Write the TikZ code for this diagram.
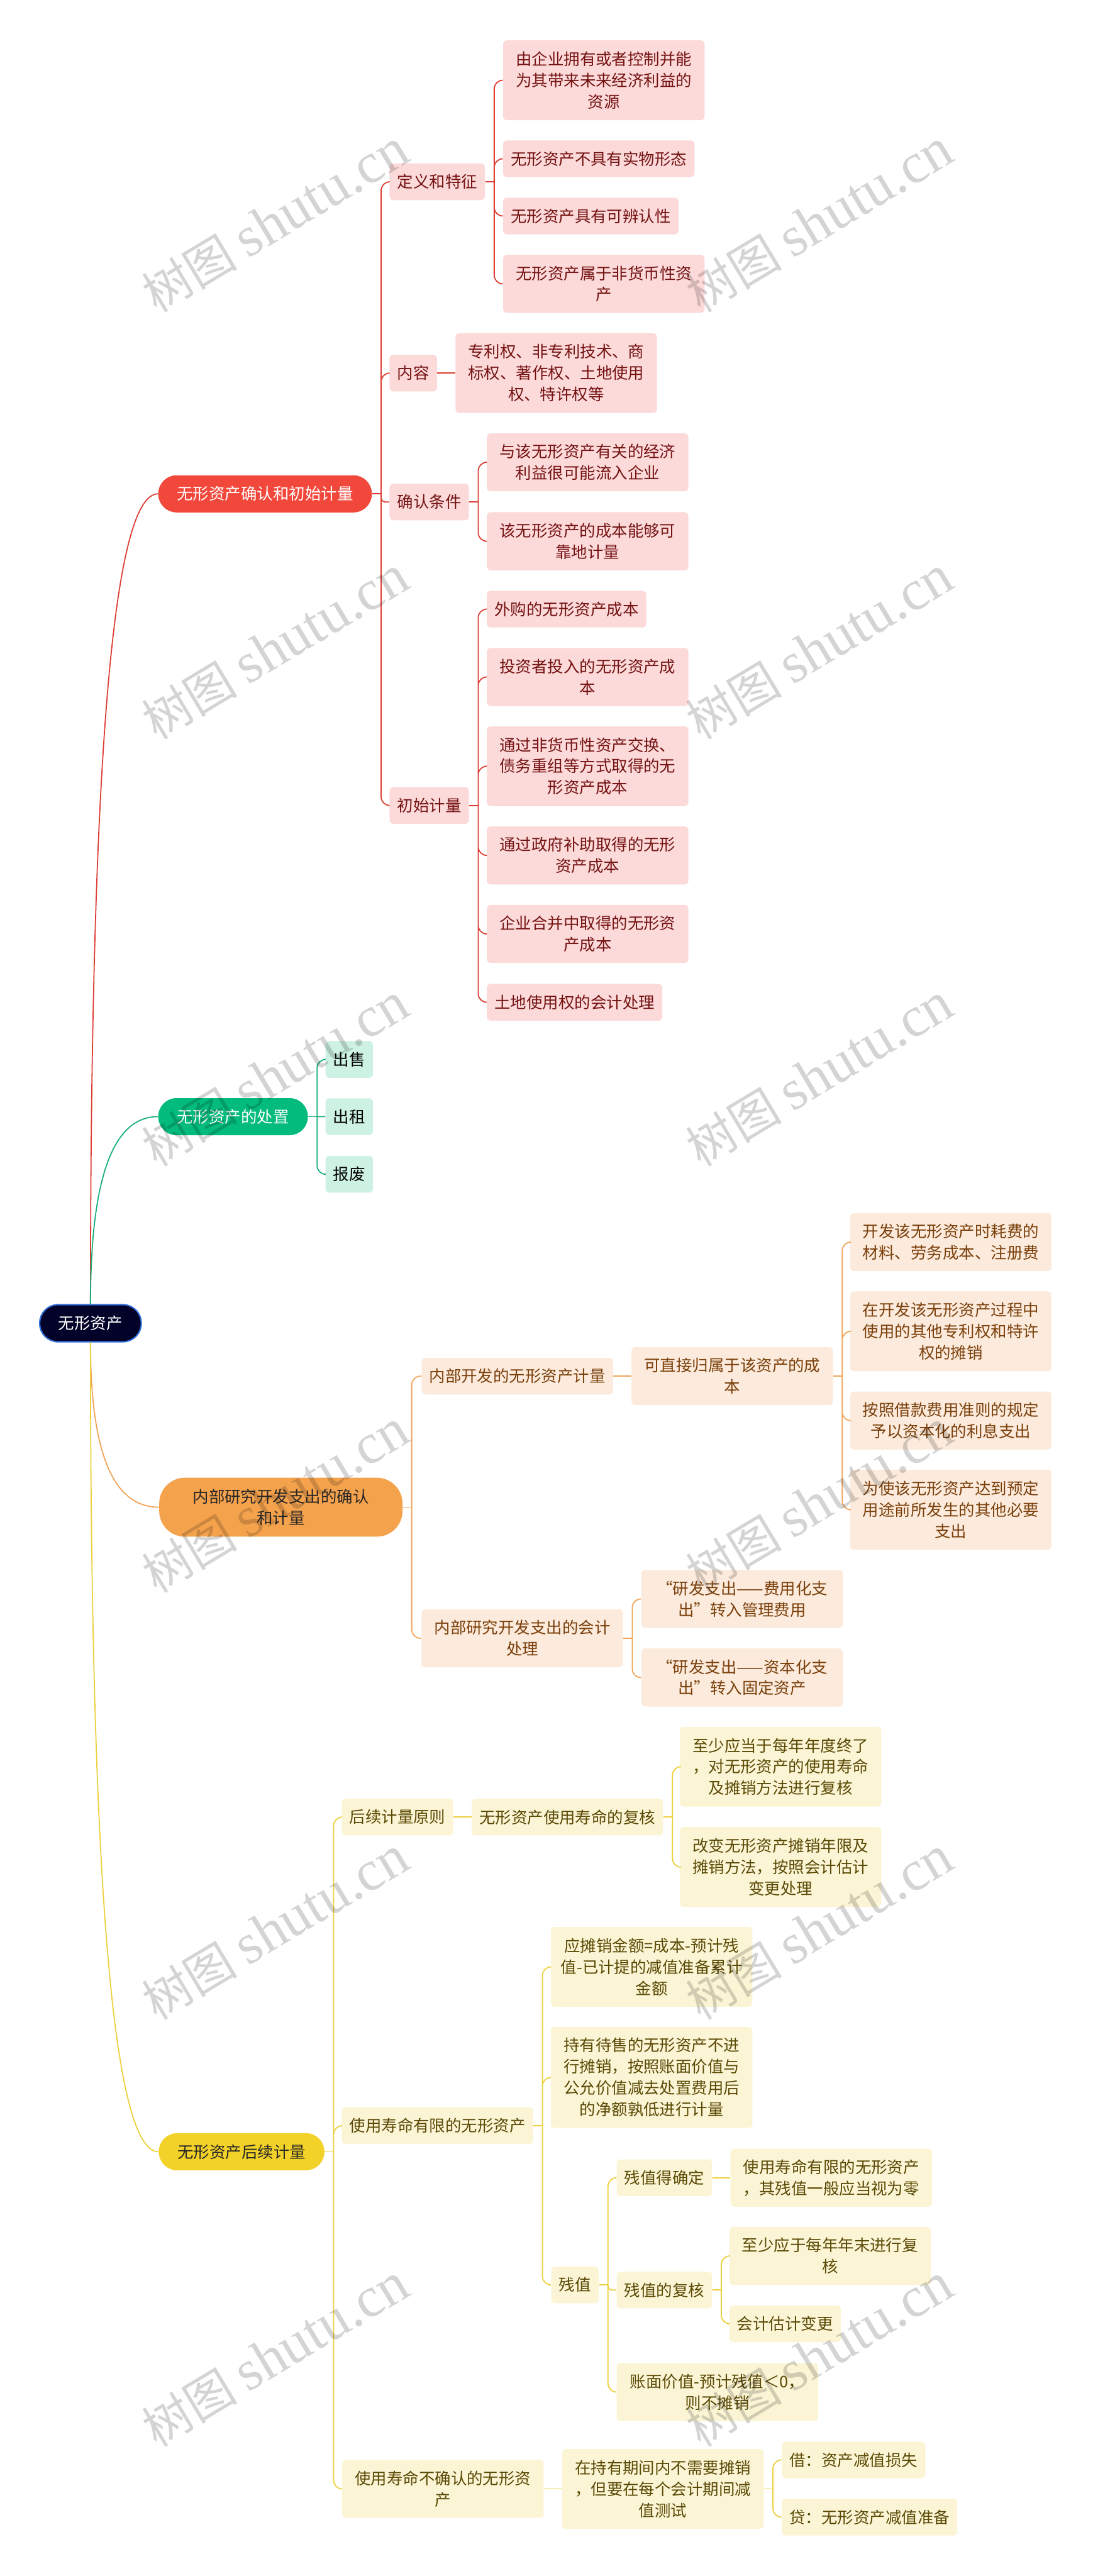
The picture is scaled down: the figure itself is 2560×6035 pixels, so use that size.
\documentclass[tikz,border=0pt]{standalone}
\usepackage{fontspec}
\setmainfont{Noto Sans CJK SC}
\newfontfamily\wmlatin{Liberation Serif}
\usepackage{tikz}
\usetikzlibrary{positioning, calc}

\definecolor{rootfill}{HTML}{03032A}
\definecolor{rootline}{HTML}{2F6CD8}
\definecolor{redmain}{HTML}{F2483C}
\definecolor{redline}{HTML}{DD3D33}
\definecolor{redfill}{HTML}{FCDADA}
\definecolor{redtext}{HTML}{741212}
\definecolor{greenmain}{HTML}{02BB7C}
\definecolor{greenline}{HTML}{18AE7C}
\definecolor{greenfill}{HTML}{CDF2E3}
\definecolor{orangemain}{HTML}{F5A24D}
\definecolor{orangeline}{HTML}{F0A458}
\definecolor{orangefill}{HTML}{FCEBDC}
\definecolor{orangetext}{HTML}{7A3F0B}
\definecolor{yellowmain}{HTML}{F2D229}
\definecolor{yellowline}{HTML}{EDD03C}
\definecolor{yellowfill}{HTML}{FCF5D5}
\definecolor{yellowtext}{HTML}{594905}

\begin{document}
\begin{tikzpicture}[x=0.1mm, y=-0.1mm,
  every node/.style={font=\fontsize{10.67pt}{14.2pt}\selectfont, align=center},
  topic/.style={rounded corners=0.43cm, minimum height=0.87cm, inner xsep=0.44cm, inner ysep=0pt},
  leaf/.style={rounded corners=0.09cm, minimum height=0.86cm, inner xsep=0.18cm, inner ysep=0pt, anchor=west},
  wide/.style={text width=4.36cm},
  h2/.style={minimum height=1.36cm},
  h3/.style={minimum height=1.87cm},
  h4/.style={minimum height=2.37cm},
  leafR/.style={leaf, fill=redfill, text=redtext},
  leafG/.style={leaf, fill=greenfill, text=black},
  leafO/.style={leaf, fill=orangefill, text=orangetext},
  leafY/.style={leaf, fill=yellowfill, text=yellowtext},
  lnR/.style={draw=redline, line width=0.75pt, rounded corners=2mm},
  lnG/.style={draw=greenline, line width=0.75pt, rounded corners=2mm},
  lnO/.style={draw=orangeline, line width=0.75pt, rounded corners=2mm},
  lnY/.style={draw=yellowline, line width=0.75pt, rounded corners=2mm},
  wmark/.style={rotate=31, text=black, text opacity=0.17}]

  \useasboundingbox[fill=white] (0,0) rectangle (2560,6035);

  % root and main topics
  \node[topic, fill=rootfill, draw=rootline, line width=0.9pt, text=white] (root) at (212,3100) {无形资产};
  \node[topic, fill=redmain, text=white] (m1) at (621,1157) {无形资产确认和初始计量};
  \node[topic, fill=greenmain, text=white] (m2) at (546,2616) {无形资产的处置};
  \node[topic, fill=orangemain, text=black!85, minimum width=5.7cm, minimum height=1.38cm, rounded corners=0.6cm] (m3) at (658,3531) {内部研究开发支出的确认\\和计量};
  \node[topic, fill=yellowmain, text=black!85] (m4) at (566,5041) {无形资产后续计量};

  % red branch
  \node[leafR] (r1) at (912,426) {定义和特征};
  \node[leafR, wide, h3] (r11) at (1178,188) {由企业拥有或者控制并能\\为其带来未来经济利益的\\资源};
  \node[leafR] (r12) at (1178,372) {无形资产不具有实物形态};
  \node[leafR] (r13) at (1178,506) {无形资产具有可辨认性};
  \node[leafR, wide, h2] (r14) at (1178,665) {无形资产属于非货币性资\\产};
  \node[leafR] (r2) at (912,874) {内容};
  \node[leafR, wide, h3, right=4.2mm of r2] (r21) {专利权、非专利技术、商\\标权、著作权、土地使用\\权、特许权等};
  \node[leafR] (r3) at (912,1176) {确认条件};
  \node[leafR, wide, h2] (r31) at (1140,1083) {与该无形资产有关的经济\\利益很可能流入企业};
  \node[leafR, wide, h2] (r32) at (1140,1268) {该无形资产的成本能够可\\靠地计量};
  \node[leafR] (r4) at (912,1887) {初始计量};
  \node[leafR] (r41) at (1140,1427) {外购的无形资产成本};
  \node[leafR, wide, h2] (r42) at (1140,1586) {投资者投入的无形资产成\\本};
  \node[leafR, wide, h3] (r43) at (1140,1795) {通过非货币性资产交换、\\债务重组等方式取得的无\\形资产成本};
  \node[leafR, wide, h2] (r44) at (1140,2004) {通过政府补助取得的无形\\资产成本};
  \node[leafR, wide, h2] (r45) at (1140,2188) {企业合并中取得的无形资\\产成本};
  \node[leafR] (r46) at (1140,2348) {土地使用权的会计处理};

  % green branch
  \node[leafG] (g1) at (762,2482) {出售};
  \node[leafG] (g2) at (762,2616) {出租};
  \node[leafG] (g3) at (762,2751) {报废};

  % orange branch
  \node[leafO] (o1) at (987,3224) {内部开发的无形资产计量};
  \node[leafO, wide, h2, right=4.2mm of o1] (o11) {可直接归属于该资产的成\\本};
  \node[leafO, wide, h2] (o111) at (1991,2910) {开发该无形资产时耗费的\\材料、劳务成本、注册费};
  \node[leafO, wide, h3] (o112) at (1991,3119) {在开发该无形资产过程中\\使用的其他专利权和特许\\权的摊销};
  \node[leafO, wide, h2] (o113) at (1991,3328) {按照借款费用准则的规定\\予以资本化的利息支出};
  \node[leafO, wide, h3] (o114) at (1991,3537) {为使该无形资产达到预定\\用途前所发生的其他必要\\支出};
  \node[leafO, wide, h2] (o2) at (987,3838) {内部研究开发支出的会计\\处理};
  \node[leafO, wide, h2] (o21) at (1502,3746) {“研发支出——费用化支\\出”转入管理费用};
  \node[leafO, wide, h2] (o22) at (1502,3930) {“研发支出——资本化支\\出”转入固定资产};

  % yellow branch
  \node[leafY] (y1) at (800,4257) {后续计量原则};
  \node[leafY, right=4.2mm of y1] (y11) {无形资产使用寿命的复核};
  \node[leafY, wide, h3] (y111) at (1592,4139) {至少应当于每年年度终了\\，对无形资产的使用寿命\\及摊销方法进行复核};
  \node[leafY, wide, h3] (y112) at (1592,4374) {改变无形资产摊销年限及\\摊销方法，按照会计估计\\变更处理};
  \node[leafY] (y2) at (800,4980) {使用寿命有限的无形资产};
  \node[leafY, wide, h3] (y21) at (1290,4608) {应摊销金额=成本-预计残\\值-已计提的减值准备累计\\金额};
  \node[leafY, wide, h4] (y22) at (1290,4867) {持有待售的无形资产不进\\行摊销，按照账面价值与\\公允价值减去处置费用后\\的净额孰低进行计量};
  \node[leafY] (y23) at (1291,5353) {残值};
  \node[leafY] (y231) at (1444,5102) {残值得确定};
  \node[leafY, wide, h2, right=4.2mm of y231] (y2311) {使用寿命有限的无形资产\\，其残值一般应当视为零};
  \node[leafY] (y232) at (1444,5365) {残值的复核};
  \node[leafY, wide, h2] (y2321) at (1708,5285) {至少应于每年年末进行复\\核};
  \node[leafY] (y2322) at (1708,5444) {会计估计变更};
  \node[leafY, wide, h2] (y233) at (1444,5604) {账面价值-预计残值＜0，\\则不摊销};
  \node[leafY, wide, h2] (y3) at (801,5831) {使用寿命不确认的无形资\\产};
  \node[leafY, wide, h3, right=4.2mm of y3] (y31) {在持有期间内不需要摊销\\，但要在每个会计期间减\\值测试};
  \node[leafY] (y311) at (1831,5763) {借：资产减值损失};
  \node[leafY] (y312) at (1831,5897) {贷：无形资产减值准备};

  % root to main topics
  \draw[lnR] (root.north) .. controls ($(root.north)!.67!(root.north |- m1.west)$) and ($(m1.west)!.67!(root.north |- m1.west)$) .. (m1.west);
  \draw[lnG] (root.north) .. controls ($(root.north)!.67!(root.north |- m2.west)$) and ($(m2.west)!.67!(root.north |- m2.west)$) .. (m2.west);
  \draw[lnO] (root.south) .. controls ($(root.south)!.67!(root.south |- m3.west)$) and ($(m3.west)!.67!(root.south |- m3.west)$) .. (m3.west);
  \draw[lnY] (root.south) .. controls ($(root.south)!.67!(root.south |- m4.west)$) and ($(m4.west)!.67!(root.south |- m4.west)$) .. (m4.west);

  % red connectors
  \draw[lnR] (m1.east) -- ++(21,0) coordinate (m1t);
  \draw[lnR] (m1t) |- (r1.west) (m1t) |- (r2.west) (m1t) |- (r4.west);
  \draw[lnR, rounded corners=1mm] (m1t) |- (r3.west);
  \draw[lnR] (r1.east) -- ++(21,0) coordinate (r1t);
  \draw[lnR] (r1t) |- (r11.west) (r1t) |- (r12.west) (r1t) |- (r13.west) (r1t) |- (r14.west);
  \draw[lnR] (r2) -- (r21);
  \draw[lnR] (r3.east) -- ++(21,0) coordinate (r3t);
  \draw[lnR] (r3t) |- (r31.west) (r3t) |- (r32.west);
  \draw[lnR] (r4.east) -- ++(21,0) coordinate (r4t);
  \draw[lnR] (r4t) |- (r41.west) (r4t) |- (r42.west) (r4t) |- (r43.west)
    (r4t) |- (r44.west) (r4t) |- (r45.west) (r4t) |- (r46.west);

  % green connectors
  \draw[lnG] (m2.east) -- ++(21,0) coordinate (m2t);
  \draw[lnG] (m2t) |- (g1.west) (m2t) -- (g2.west) (m2t) |- (g3.west);

  % orange connectors
  \draw[lnO] (m3.east) -- ++(21,0) coordinate (m3t);
  \draw[lnO] (m3t) |- (o1.west) (m3t) |- (o2.west);
  \draw[lnO] (o1) -- (o11);
  \draw[lnO] (o11.east) -- ++(21,0) coordinate (o11t);
  \draw[lnO] (o11t) |- (o111.west) (o11t) |- (o112.west) (o11t) |- (o113.west) (o11t) |- (o114.west);
  \draw[lnO] (o2.east) -- ++(21,0) coordinate (o2t);
  \draw[lnO] (o2t) |- (o21.west) (o2t) |- (o22.west);

  % yellow connectors
  \draw[lnY] (m4.east) -- ++(21,0) coordinate (m4t);
  \draw[lnY] (m4t) |- (y1.west) (m4t) |- (y2.west) (m4t) |- (y3.west);
  \draw[lnY] (y1) -- (y11);
  \draw[lnY] (y11.east) -- ++(21,0) coordinate (y11t);
  \draw[lnY] (y11t) |- (y111.west) (y11t) |- (y112.west);
  \draw[lnY] (y2.east) -- ++(21,0) coordinate (y2t);
  \draw[lnY] (y2t) |- (y21.west) (y2t) |- (y22.west) (y2t) |- (y23.west);
  \draw[lnY] (y23.east) -- ++(21,0) coordinate (y23t);
  \draw[lnY] (y23t) |- (y231.west) (y23t) |- (y233.west);
  \draw[lnY, rounded corners=1mm] (y23t) |- (y232.west);
  \draw[lnY] (y231) -- (y2311);
  \draw[lnY] (y232.east) -- ++(21,0) coordinate (y232t);
  \draw[lnY] (y232t) |- (y2321.west) (y232t) |- (y2322.west);
  \draw[lnY] (y3) -- (y31);
  \draw[lnY] (y31.east) -- ++(21,0) coordinate (y31t);
  \draw[lnY] (y31t) |- (y311.west) (y31t) |- (y312.west);

  % watermark
  \foreach \wy [count=\i] in {518,1518,2518,3518,4518,5518} {
    \node[wmark] (wl\i) at (645,\wy) {\fontsize{32pt}{32pt}\selectfont 树图 {\wmlatin\fontsize{38pt}{38pt}\selectfont shutu.cn}};
    \node[wmark] (wr\i) at (1920,\wy) {\fontsize{32pt}{32pt}\selectfont 树图 {\wmlatin\fontsize{38pt}{38pt}\selectfont shutu.cn}};
  }
\end{tikzpicture}
\end{document}
